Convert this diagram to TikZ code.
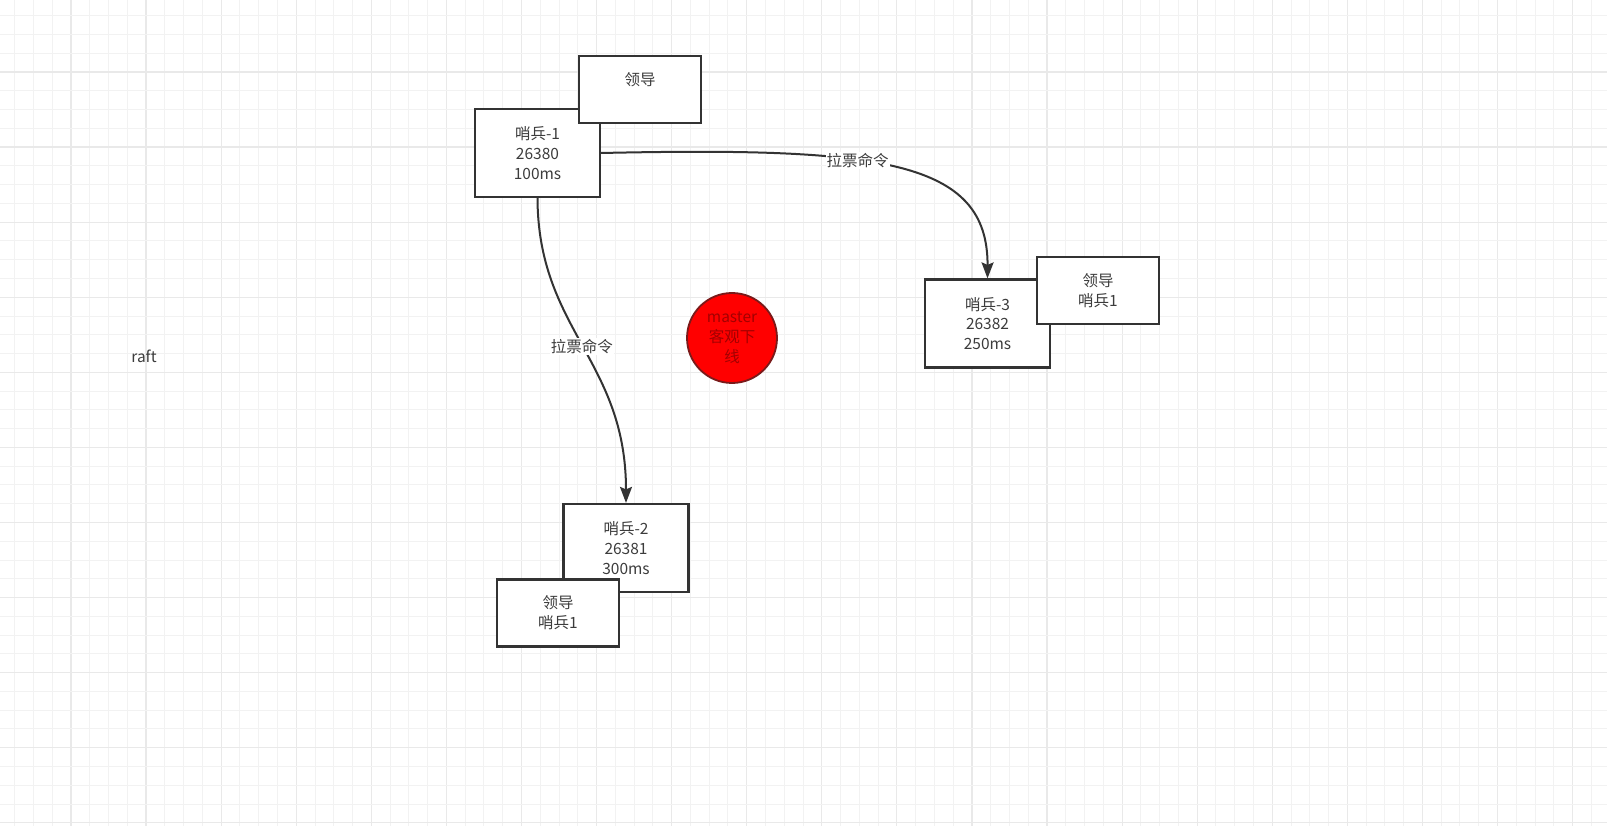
\documentclass[tikz,border=0pt]{standalone}
\usepackage{fontspec}
\setmainfont{Noto Sans CJK SC}
\usepackage{xcolor}
\usetikzlibrary{arrows.meta}
\definecolor{edgegray}{HTML}{333333}
\definecolor{textgray}{HTML}{3c3c3c}
\definecolor{minorgrid}{HTML}{F2F2F2}
\definecolor{majorgrid}{HTML}{E9E9E9}
\definecolor{masterred}{HTML}{FF0000}
\definecolor{masterline}{HTML}{7A1A1A}
\definecolor{mastertext}{HTML}{A30000}
\tikzset{
  box/.style={draw=edgegray,fill=white,line width=2.2pt,align=center,text=textgray,
    font=\fontsize{15.5pt}{19.8pt}\selectfont,inner sep=0pt},
  sentry/.style={box,minimum width=125pt,minimum height=88pt},
  leader/.style={box,minimum width=122pt,minimum height=67pt},
  vote/.style={draw=edgegray,line width=2pt,-{Stealth[length=16pt,width=12pt,inset=2.5pt]}},
  votelabel/.style={fill=white,text=textgray,inner sep=1pt,font=\fontsize{15.5pt}{19.8pt}\selectfont}
}
\begin{document}
\begin{tikzpicture}[x=1pt,y=-1pt]
	\useasboundingbox (0,0) rectangle (1607,826);
	\fill[white] (0,0) rectangle (1607,826);
	% grid
	\foreach \i in {0,...,86}{
		\pgfmathsetmacro{\gx}{-4.08+\i*18.77}
		\pgfmathtruncatemacro{\major}{mod(\i,4)==0}
		\ifnum\major=1 \draw[majorgrid,line width=1.2pt] (\gx,0)--(\gx,826); \else \draw[minorgrid,line width=1pt] (\gx,0)--(\gx,826); \fi
	}
	\foreach \j in {0,...,44}{
		\pgfmathsetmacro{\gy}{-3.08+\j*18.77}
		\pgfmathtruncatemacro{\major}{mod(\j,4)==0}
		\ifnum\major=1 \draw[majorgrid,line width=1.2pt] (0,\gy)--(1607,\gy); \else \draw[minorgrid,line width=1pt] (0,\gy)--(1607,\gy); \fi
	}
	\node[text=textgray,font=\fontsize{15.5pt}{19.8pt}\selectfont] (raft) at (144,356) {raft};
	% sentries
	\node[sentry] (s1) at (537.5,153) {哨兵-1\\26380\\100ms};
	\node[sentry] (s3) at (987.5,323.5) {哨兵-3\\26382\\250ms};
	\node[sentry] (s2) at (626,548) {哨兵-2\\26381\\300ms};
	% leaders
	\node[leader] (lead1) at (640,89.5) {领导\\\phantom{导}};
	\node[leader] (lead3) at (1098,290.5) {领导\\哨兵1};
	\node[leader] (lead2) at (558,613) {领导\\哨兵1};
	\node[circle,draw=masterline,fill=masterred,line width=1.8pt,minimum size=90pt,inner sep=0pt,
		align=center,text=mastertext,font=\fontsize{15.5pt}{19.8pt}\selectfont] (master) at (732,338) {master\\客观下\\线};
	% votes
	\draw[vote] (s1.east) .. controls (880,147) and (988,160) .. (s3.north)
		node[votelabel,pos=0.4] (vote3) {拉票命令};
	\draw[vote] (s1.south) .. controls (538,330) and (626,360) .. (s2.north)
		node[votelabel,pos=0.5] (vote2) {拉票命令};
\end{tikzpicture}
\end{document}
